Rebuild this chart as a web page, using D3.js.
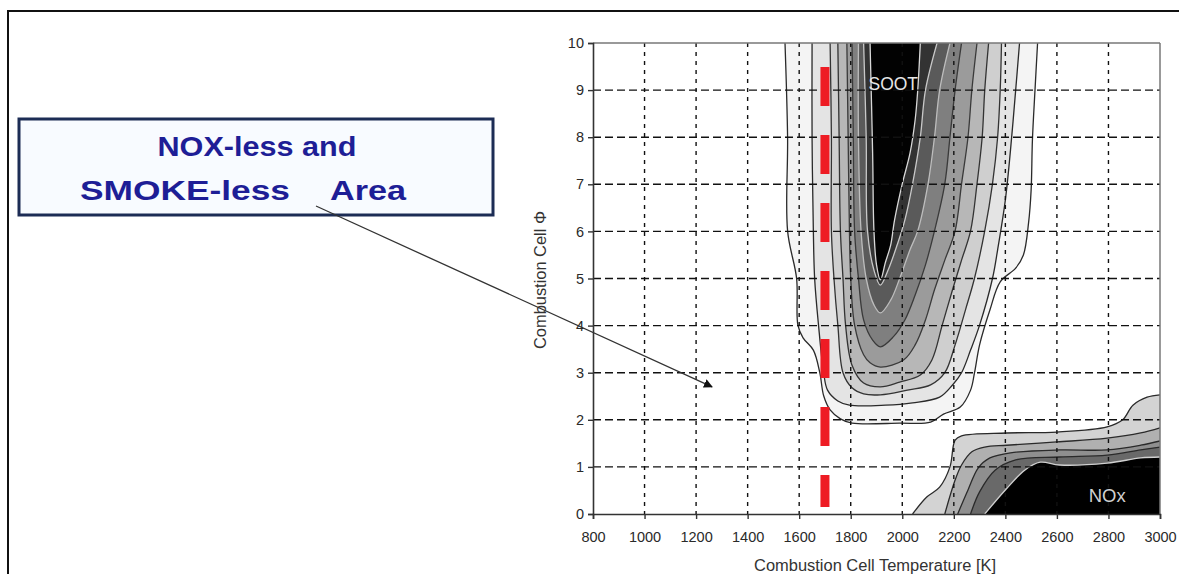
<!DOCTYPE html>
<html><head><meta charset="utf-8">
<script src="https://cdn.jsdelivr.net/npm/d3@7"></script>
<style>html,body{margin:0;padding:0;background:#fff;} svg{display:block;}</style>
</head><body>
<svg id="chart" width="1179" height="574"></svg>
<script>
// ---------- data ----------
const tempTicks = [800,1000,1200,1400,1600,1800,2000,2200,2400,2600,2800,3000];
const phiTicks = [0,1,2,3,4,5,6,7,8,9,10];
const xTitle = "Combustion Cell Temperature [K]";
const yTitle = "Combustion Cell \u03A6";
const calloutLine1 = "NOX-less and";
const calloutLine2a = "SMOKE-less";
const calloutLine2b = "Area";
const arrowTarget = [1262, 2.7];
const boundaryTemp = 1700;
const boundaryPhi = [0.15, 9.49];

// soot contour levels, outer -> inner, [T, phi]
const soot1 = [[1545,10],[1555,8],[1555,6.01],[1590,5.0],[1595,4.01],[1615,3.74],[1655,3.48],[1680,3.0],[1695,2.51],[1720,2.21],[1760,2.02],[1805,1.93],[1990,1.93],[2110,1.95],[2160,2.12],[2225,2.27],[2265,2.63],[2280,2.99],[2300,3.59],[2340,4.33],[2380,4.93],[2440,5.22],[2470,5.50],[2490,6.18],[2500,6.88],[2505,7.94],[2515,9.0],[2525,10]];
const soot2 = [[1650,10],[1650,8],[1655,6.01],[1660,5.0],[1675,4.01],[1695,3.0],[1710,2.63],[1750,2.40],[1795,2.31],[1935,2.31],[2040,2.36],[2145,2.48],[2195,2.74],[2230,3.0],[2265,3.48],[2300,4.01],[2350,5.0],[2370,5.61],[2400,6.67],[2420,7.73],[2440,9.0],[2455,10]];
const soot3 = [[1720,10],[1725,8],[1725,6.01],[1735,5.0],[1750,4.01],[1770,3.0],[1805,2.68],[1850,2.55],[1915,2.53],[2020,2.63],[2110,2.74],[2165,3.0],[2205,3.59],[2245,4.33],[2280,5.0],[2320,6.01],[2350,7.01],[2370,8.0],[2380,9.0],[2385,10]];
const soot4 = [[1750,10],[1755,8],[1760,6.01],[1770,5.0],[1780,4.01],[1805,3.16],[1850,2.78],[1915,2.70],[1990,2.80],[2070,2.95],[2115,3.27],[2155,4.01],[2195,4.76],[2230,5.39],[2265,6.01],[2290,7.01],[2310,8.0],[2320,9.0],[2335,10]];
const soot5 = [[1785,10],[1790,8],[1795,6.01],[1800,5.0],[1815,4.01],[1850,3.38],[1875,3.21],[1915,3.12],[2005,3.27],[2050,3.59],[2090,4.12],[2125,4.76],[2165,5.39],[2205,6.01],[2230,7.01],[2255,8.0],[2270,9.0],[2290,10]];
const soot6 = [[1805,10],[1810,8],[1815,6.01],[1830,5.0],[1850,4.12],[1885,3.69],[1915,3.55],[1965,3.76],[2010,4.12],[2050,4.65],[2090,5.29],[2125,6.01],[2165,7.01],[2185,8.0],[2205,9.0],[2230,10]];
const soot7 = [[1830,10],[1830,8],[1840,6.01],[1860,5.0],[1890,4.44],[1915,4.27],[1955,4.54],[1990,5.0],[2030,5.61],[2060,6.01],[2100,7.01],[2125,8.0],[2145,9.0],[2185,10]];
const soot8 = [[1850,10],[1860,8],[1865,6.01],[1890,5.18],[1915,4.86],[1945,5.18],[1980,5.71],[2010,6.24],[2040,7.01],[2070,8.0],[2090,9.0],[2135,10]];
const soot9 = [[1875,10],[1885,7.66],[1890,6.03],[1900,5.29],[1915,4.97],[1935,5.35],[1955,5.71],[1970,6.24],[2000,7.01],[2030,7.66],[2050,8.37],[2060,9.0],[2070,10]];

// NOx contour levels, outer -> inner
const nox1 = [[2040,0],[2095,0.36],[2145,0.57],[2185,1.0],[2205,1.57],[2230,1.66],[2405,1.72],[2600,1.74],[2795,1.85],[2855,2.0],[2895,2.31],[2950,2.48],[3000,2.53]];
const nox2 = [[2165,0],[2205,0.72],[2230,1.04],[2270,1.32],[2320,1.42],[2405,1.46],[2600,1.53],[2795,1.61],[2925,1.72],[3000,1.83]];
const nox3 = [[2215,0],[2255,0.51],[2295,0.98],[2340,1.19],[2420,1.30],[2610,1.36],[2795,1.36],[2925,1.46],[3000,1.55]];
const nox4 = [[2265,0],[2300,0.47],[2360,0.93],[2440,1.15],[2610,1.21],[2795,1.25],[2925,1.36],[3000,1.42]];
const nox5 = [[2320,0],[2400,0.51],[2475,0.93],[2535,1.10],[2610,1.04],[2795,1.08],[2925,1.19],[3000,1.21]];

// ---------- drawing ----------
const svg = d3.select("#chart");
const W = 1179, H = 574;
const L = 593, R = 1160, T = 43, B = 514;

const x = d3.scaleLinear().domain([800,3000]).range([L,R]);
const y = d3.scaleLinear().domain([0,10]).range([B,T]);

// outer image frame
svg.append("line").attr("x1",8).attr("x2",W).attr("y1",11).attr("y2",11).attr("stroke","#111").attr("stroke-width",2);
svg.append("line").attr("x1",8).attr("x2",8).attr("y1",10).attr("y2",H).attr("stroke","#111").attr("stroke-width",2);

svg.append("defs").append("clipPath").attr("id","plotclip")
  .append("rect").attr("x",L).attr("y",T).attr("width",R-L).attr("height",B-T);

const plot = svg.append("g").attr("clip-path","url(#plotclip)");
plot.append("rect").attr("x",L).attr("y",T).attr("width",R-L).attr("height",B-T).attr("fill","#fff");

const line = d3.line().x(d=>x(d[0])).y(d=>y(d[1])).curve(d3.curveCatmullRom.alpha(0.5));

const sootLevels = [soot1,soot2,soot3,soot4,soot5,soot6,soot7,soot8,soot9];
const sootFill = ["#f4f4f4","#e4e4e4","#cfcfcf","#b7b7b7","#9b9b9b","#7f7f7f","#5a5a5a","#333333","#020202"];
const sootStroke = ["#2a2a2a","#2a2a2a","#333","#333","#3a3a3a","#3a3a3a","#bdbdbd","#c8c8c8","#d8d8d8"];

sootLevels.forEach((pts,i)=>{
  plot.append("path").attr("d", line(pts)+"Z").attr("fill",sootFill[i]).attr("stroke","none");
});
sootLevels.forEach((pts,i)=>{
  plot.append("path").attr("d", line(pts)).attr("fill","none").attr("stroke",sootStroke[i]).attr("stroke-width",1.3);
});

const noxLevels = [nox1,nox2,nox3,nox4,nox5];
const noxFill = ["#d3d3d3","#b0b0b0","#8f8f8f","#696969","#000000"];
const noxStroke = ["#2a2a2a","#2a2a2a","#2a2a2a","#2a2a2a","#d0d0d0"];
noxLevels.forEach((pts,i)=>{
  plot.append("path").attr("d", line(pts)+"L"+x(3000)+","+y(0)+"Z").attr("fill",noxFill[i]);
});
noxLevels.forEach((pts,i)=>{
  plot.append("path").attr("d", line(pts)).attr("fill","none").attr("stroke",noxStroke[i]).attr("stroke-width",1.3);
});

// grid
const grid = svg.append("g");
tempTicks.filter(t=>t>800 && t<3000).forEach(t=>{
  grid.append("line").attr("x1",x(t)).attr("x2",x(t)).attr("y1",T).attr("y2",B)
    .attr("stroke","#111").attr("stroke-width",1.4).attr("stroke-dasharray","4,5");
});
phiTicks.filter(p=>p>0 && p<10).forEach(p=>{
  grid.append("line").attr("x1",L).attr("x2",R).attr("y1",y(p)).attr("y2",y(p))
    .attr("stroke","#111").attr("stroke-width",1.4).attr("stroke-dasharray","8,4");
});

const fontFam = "Liberation Sans, Arial, sans-serif";

// labels inside plot
svg.append("text").attr("x",x(1965)).attr("y",y(9.0)).attr("text-anchor","middle")
  .attr("font-family",fontFam).attr("font-size",17.5).attr("fill","#e6e6e6").text("SOOT");
svg.append("text").attr("x",x(2795)).attr("y",y(0.25)).attr("text-anchor","middle")
  .attr("font-family",fontFam).attr("font-size",18).attr("fill","#d0d0d0")
  .attr("textLength",37).attr("lengthAdjust","spacingAndGlyphs").text("NOx");

// red boundary dashed line
svg.append("line").attr("x1",x(boundaryTemp)).attr("x2",x(boundaryTemp))
  .attr("y1",y(boundaryPhi[1])).attr("y2",y(boundaryPhi[0]))
  .attr("stroke","#ee1c24").attr("stroke-width",9).attr("stroke-dasharray","39,29");

// frame
svg.append("line").attr("x1",L).attr("x2",R).attr("y1",T).attr("y2",T).attr("stroke","#777").attr("stroke-width",1.5);
svg.append("line").attr("x1",R).attr("x2",R).attr("y1",T).attr("y2",B).attr("stroke","#777").attr("stroke-width",1.5);

// axes
const xAxis = svg.append("g").attr("transform",`translate(0,${B})`)
  .call(d3.axisBottom(x).tickValues(tempTicks).tickFormat(d3.format("d")).tickSize(5).tickPadding(13));
const yAxis = svg.append("g").attr("transform",`translate(${L},0)`)
  .call(d3.axisLeft(y).tickValues(phiTicks).tickFormat(d3.format("d")).tickSize(5).tickPadding(4));
[xAxis,yAxis].forEach(a=>{
  a.select(".domain").attr("stroke","#333").attr("stroke-width",1.6);
  a.selectAll(".tick line").attr("stroke","#333").attr("stroke-width",1.4);
  a.selectAll(".tick text").attr("font-family",fontFam).attr("font-size",14.5).attr("fill","#2a2a2a");
});

svg.append("text").attr("x",875).attr("y",571).attr("text-anchor","middle")
  .attr("font-family",fontFam).attr("font-size",16).attr("fill","#333")
  .attr("textLength",242).attr("lengthAdjust","spacingAndGlyphs").text(xTitle);
svg.append("text").attr("transform",`translate(546,${280}) rotate(-90)`).attr("text-anchor","middle")
  .attr("font-family",fontFam).attr("font-size",16).attr("fill","#333")
  .attr("textLength",138).attr("lengthAdjust","spacingAndGlyphs").text(yTitle);

// callout box
const box = {x:19, y:119, w:474, h:96};
svg.append("rect").attr("x",box.x).attr("y",box.y).attr("width",box.w).attr("height",box.h)
  .attr("fill","#f8fbff").attr("stroke","#1c2c55").attr("stroke-width",3);
const calloutFont = {family:fontFam, size:28, color:"#1e1e96"};
function calloutText(txt, xPos, yPos, len, anchor){
  svg.append("text").attr("x",xPos).attr("y",yPos).attr("text-anchor",anchor)
    .attr("font-family",calloutFont.family).attr("font-weight","bold").attr("font-size",calloutFont.size)
    .attr("fill",calloutFont.color).attr("textLength",len).attr("lengthAdjust","spacingAndGlyphs").text(txt);
}
calloutText(calloutLine1, 257, 156, 199, "middle");
calloutText(calloutLine2a, 80, 200, 210, "start");
calloutText(calloutLine2b, 330, 200, 76, "start");

// arrow
svg.select("defs").append("marker").attr("id","arrowhead").attr("viewBox","0 0 10 10")
  .attr("refX",9).attr("refY",5).attr("markerWidth",9).attr("markerHeight",9).attr("markerUnits","userSpaceOnUse")
  .attr("orient","auto").append("path").attr("d","M0,0L10,5L0,10Z").attr("fill","#111");
svg.append("line").attr("x1",316).attr("y1",206).attr("x2",x(arrowTarget[0])).attr("y2",y(arrowTarget[1]))
  .attr("stroke","#333").attr("stroke-width",1.3).attr("marker-end","url(#arrowhead)");
</script>
</body></html>
